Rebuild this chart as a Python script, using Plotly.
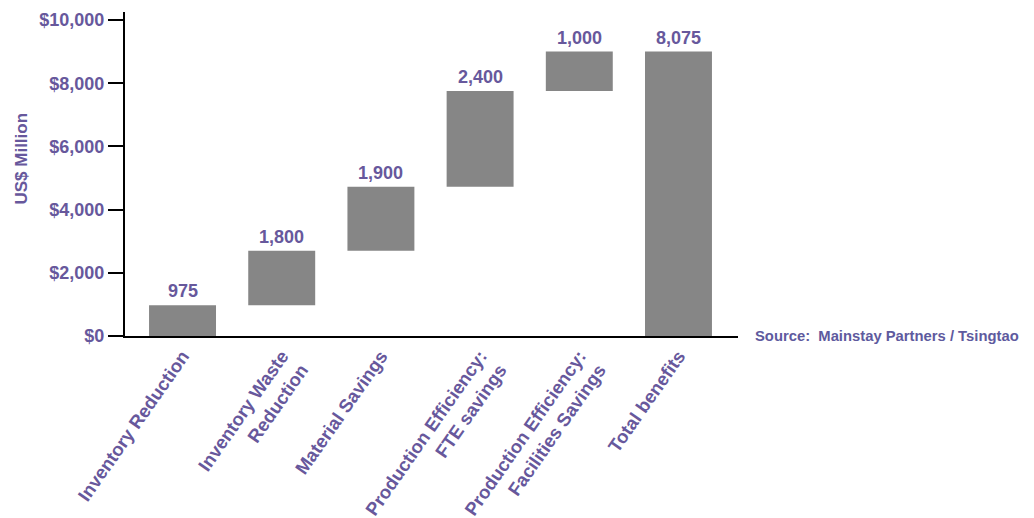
import plotly.graph_objects as go

categories = ["Inventory Reduction", "Inventory Waste<br>Reduction", "Material Savings",
              "Production Efficiency:<br>FTE savings", "Production Efficiency:<br>Facilities Savings",
              "Total benefits"]
# bar extents as drawn in the picture (US$ million)
bar_bottom = [0, 975, 2700, 4720, 7750, 0]
bar_top = [975, 2700, 4720, 7750, 9000, 9000]
# printed value labels
label_values = [975, 1800, 1900, 2400, 1000, 8075]
y_tickvals = [0, 2000, 4000, 6000, 8000, 10000]
y_ticktext = ["$0", "$2,000", "$4,000", "$6,000", "$8,000", "$10,000"]

PURPLE = "#67589c"
GRAY = "#868686"
FONT = "Liberation Sans, Arial, sans-serif"

xs = list(range(len(categories)))
heights = [t - b for t, b in zip(bar_top, bar_bottom)]

fig = go.Figure()
fig.add_trace(go.Bar(x=xs, y=heights, base=bar_bottom, width=0.675,
                     marker=dict(color=GRAY, line=dict(width=0)), hoverinfo="skip"))

annotations = [
    dict(x=x, y=t, xref="x", yref="y", text=f"{v:,}", showarrow=False,
         xanchor="center", yanchor="bottom", yshift=2,
         font=dict(family=FONT, size=18, color=PURPLE, weight="bold"))
    for x, t, v in zip(xs, bar_top, label_values)
]
annotations += [
    dict(text="US$ Million", xref="paper", yref="paper", x=-0.169, y=0.549,
         textangle=-90, showarrow=False, xanchor="center", yanchor="middle",
         font=dict(family=FONT, size=17, color=PURPLE, weight="bold")),
    dict(text="Source:  Mainstay Partners / Tsingtao", xref="paper", yref="paper",
         x=1.0245, y=0, xanchor="left", yanchor="middle", showarrow=False,
         font=dict(family=FONT, size=14.8, color="#5e5a9e", weight="bold")),
]

fig.update_layout(
    width=1034, height=518,
    margin=dict(l=125, r=296, t=12, b=182, autoexpand=False),
    paper_bgcolor="white", plot_bgcolor="white",
    showlegend=False,
    font=dict(family=FONT, color=PURPLE, weight="bold"),
    xaxis=dict(range=[-0.58, 5.6], tickmode="array", tickvals=xs, ticktext=categories,
               tickangle=-55, showgrid=False, zeroline=False, showline=True,
               linecolor="black", linewidth=2, ticks="", automargin=False,
               tickfont=dict(family=FONT, size=18.5, color=PURPLE, weight="bold")),
    yaxis=dict(range=[0, 10253], tickmode="array", tickvals=y_tickvals, ticktext=y_ticktext,
               showgrid=False, zeroline=False, showline=True, linecolor="black", linewidth=2,
               ticks="outside", ticklen=15, tickwidth=2, tickcolor="black", automargin=False,
               tickfont=dict(family=FONT, size=18, color=PURPLE, weight="bold")),
    annotations=annotations,
)

fig.write_html("out.html")
